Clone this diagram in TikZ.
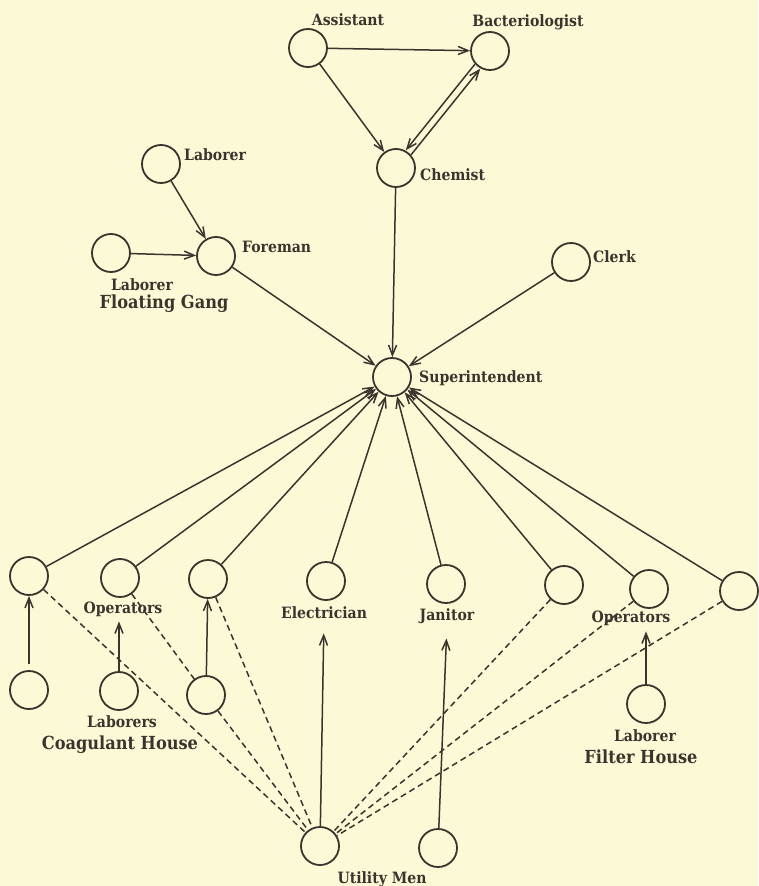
\documentclass[tikz,border=0pt]{standalone}
\usepackage{fontspec}
\setmainfont{DejaVu Serif Condensed}
\usetikzlibrary{arrows.meta,calc}
\definecolor{paper}{RGB}{252,250,214}
\definecolor{ink}{RGB}{58,52,46}
\begin{document}
\begin{tikzpicture}[x=1pt,y=-1pt,
  person/.style={circle,draw=ink,line width=1.8pt,minimum size=38pt,inner sep=0pt},
  lbl/.style={text=ink,inner sep=0pt,font=\bfseries\fontsize{15.6}{18}\selectfont},
  big/.style={text=ink,inner sep=0pt,font=\bfseries\fontsize{18}{21}\selectfont},
  arr/.style={draw=ink,line width=1.5pt,-{Straight Barb[length=10pt,width=8pt]}},
  dsh/.style={draw=ink,line width=1.5pt,dash pattern=on 6pt off 4pt},
]
\fill[paper] (0,0) rectangle (758,886);
\useasboundingbox (0,0) rectangle (758,886);

% circles
\node[person] (asst) at (308,48) {};
\node[person] (bact) at (490,51) {};
\node[person] (chem) at (396,168) {};
\node[person] (lab1) at (161,164) {};
\node[person] (fore) at (216,256) {};
\node[person] (labf) at (111,253) {};
\node[person] (clerk) at (571,262) {};
\node[person] (sup) at (392,377) {};
\node[person] (op1) at (29,576) {};
\node[person] (op2) at (120,578) {};
\node[person] (op3) at (208,579) {};
\node[person] (elec) at (326,581) {};
\node[person] (jan) at (446,584) {};
\node[person] (op4) at (564,585) {};
\node[person] (op5) at (649,589) {};
\node[person] (op6) at (739,591) {};
\node[person] (cl1) at (29,690) {};
\node[person] (cl2) at (119,691) {};
\node[person] (cl3) at (206,695) {};
\node[person] (fl) at (646,704) {};
\node[person] (util) at (320,846) {};
\node[person] (util2) at (438,848) {};

% labels
\node[lbl,anchor=base] (tAsst) at (348,25) {Assistant};
\node[lbl,anchor=base] (tBact) at (528,27) {Bacteriologist};
\node[lbl,anchor=base west] (tChem) at (420,180) {Chemist};
\node[lbl,anchor=base west] (tLab1) at (184,160) {Laborer};
\node[lbl,anchor=base west] (tFore) at (242,252) {Foreman};
\node[lbl,anchor=base] (tLabF) at (142,290) {Laborer};
\node[big,anchor=base] (tFloat) at (164,308) {Floating Gang};
\node[lbl,anchor=base west] (tClerk) at (593,262) {Clerk};
\node[lbl,anchor=base west] (tSup) at (419,382) {Superintendent};
\node[lbl,anchor=base] (tOpL) at (123,613) {Operators};
\node[lbl,anchor=base] (tLabs) at (122,727) {Laborers};
\node[big,anchor=base] (tCoag) at (120,749) {Coagulant House};
\node[lbl,anchor=base] (tElec) at (324,618) {Electrician};
\node[lbl,anchor=base] (tJan) at (447,620) {Janitor};
\node[lbl,anchor=base] (tOpR) at (631,622) {Operators};
\node[lbl,anchor=base] (tLabFH) at (645,741) {Laborer};
\node[big,anchor=base] (tFilter) at (641,763) {Filter House};
\node[lbl,anchor=base] (tUtil) at (382,883) {Utility Men};

% top connectors
\draw[arr] (asst) -- (bact);
\draw[arr] (asst) -- (chem);
\draw[arr,transform canvas={xshift=-2.7pt,yshift=2.2pt}] (bact) -- (chem);
\draw[arr,transform canvas={xshift=2.7pt,yshift=-2.2pt}] (chem) -- (bact);
\draw[arr] (chem) -- (sup);
\draw[arr] (lab1) -- (fore);
\draw[arr] (labf) -- (fore);
\draw[arr] (fore) -- (sup);
\draw[arr] (clerk) -- (sup);
\foreach \n in {op1,op2,op3,elec,jan,op4,op5,op6} \draw[arr] (\n) -- (sup);

% lower connectors
\draw[arr,shorten <=6pt] (cl1) -- (op1);
\draw[arr,shorten >=5pt] (cl2) -- (cl2 |- tOpL.south);
\draw[arr] (cl3) -- (op3);
\draw[arr,shorten >=15pt] (util) -- (tElec.south);
\draw[arr,shorten >=15pt] (util2) -- (tJan.south);
\draw[arr,shorten >=6pt] (fl) -- (fl |- tOpR.south);

% dashed
\draw[dsh] (op1) -- (util);
\draw[dsh] (op2) -- (cl3);
\draw[dsh] (cl3) -- (util);
\draw[dsh] (op3) -- (util);
\draw[dsh] (op4) -- (util);
\draw[dsh] (op5) -- (util);
\draw[dsh] (op6) -- (util);
\end{tikzpicture}
\end{document}
